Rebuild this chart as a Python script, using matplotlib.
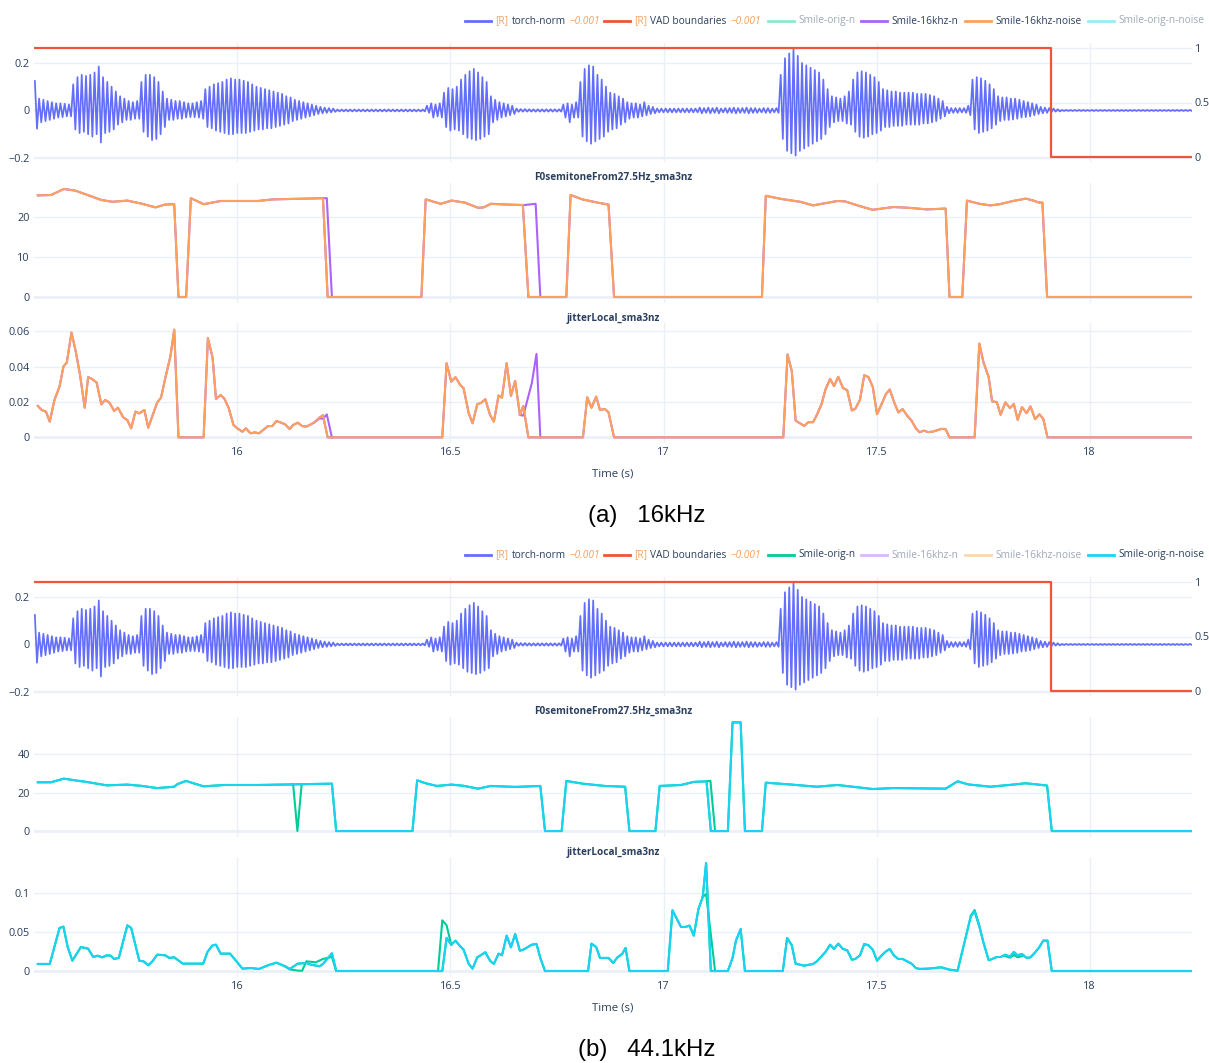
import matplotlib
matplotlib.use("Agg")
import matplotlib.pyplot as plt
import numpy as np
from matplotlib.lines import Line2D

plt.rcParams['font.family'] = ['Open Sans', 'DejaVu Sans']

# ---------------- data ----------------
X0, X1 = 15.523, 18.240
XTICKS = [16, 16.5, 17, 17.5, 18]
XTICKLABELS = ['16', '16.5', '17', '17.5', '18']

# waveform (torch-norm): upper / lower peak per 10 ms, in thousandths
WAVE_T0 = 15.525
WAVE_STEP = 0.01
wave_up = ([124] + [50, 45, 40] + [35, 30, 30, 28, 25] + [110, 140, 150, 145] + [150, 160, 185, 140]
           + [120, 100, 80, 60, 50] + [40, 35, 40] + [120, 150, 150, 140, 120, 80]
           + [50, 45, 40, 40, 35, 30, 30, 35, 40] + [90, 100, 110, 115, 120, 130, 135, 130, 130]
           + [125, 120, 110, 100, 95, 90, 85, 80, 75, 70, 60, 55] + [45, 40, 35, 30, 25, 20]
           + [15, 12, 10, 8] + [4] * 21 + [20] + [30, 25, 30] + [75, 95, 90, 100]
           + [130, 150, 165, 175, 160, 140, 120] + [60, 45, 35, 30, 25, 20]
           + [8, 6, 6, 5, 5, 5, 5, 5, 5, 5, 5] + [25, 30, 25, 35] + [120, 175, 190, 185, 150, 130, 100]
           + [75, 70, 60, 50] + [35, 30, 30, 25, 35, 20, 15] + [8] * 10 + [12, 10, 12, 10, 12]
           + [8, 10, 10, 12, 10, 10, 12, 10, 10, 8] + [10, 10, 8, 10]
           + [150, 220, 240, 260, 230, 200, 190, 180, 170, 160, 130, 90] + [60, 55, 50, 60, 80]
           + [130, 160, 165, 160, 150, 140, 120]
           + [90, 85, 80, 80, 75, 75, 75, 75, 70, 70, 70, 65, 60, 50, 40] + [15, 10, 10, 10, 10, 20]
           + [130, 140, 135, 125, 110, 90] + [60, 55, 55, 50, 50, 45, 40, 35, 30, 25]
           + [15, 12, 10, 8, 5] + [2] * 31)
wave_lo = ([-77] + [-50, -45, -40] + [-35, -30, -28, -25, -25] + [-80, -95, -90, -100] + [-110, -100, -135, -95]
           + [-90, -80, -60, -50, -40] + [-40, -35, -35] + [-90, -110, -125, -120, -100, -70]
           + [-40, -40, -35, -35, -30, -28, -28, -30, -35] + [-70, -75, -85, -90, -95, -100, -100, -95, -95]
           + [-95, -90, -85, -80, -80, -75, -75, -70, -65, -60, -55, -45] + [-40, -35, -30, -25, -20, -15]
           + [-12, -10, -8, -6] + [-4] * 21 + [-10] + [-30, -25, -30] + [-70, -85, -80, -85]
           + [-100, -115, -120, -125, -120, -110, -100] + [-50, -40, -30, -25, -20, -15]
           + [-6, -5, -5, -5, -5, -5, -5, -5, -5, -5, -5] + [-30, -50, -30, -30]
           + [-110, -130, -140, -130, -120, -110, -90]
           + [-80, -75, -60, -50] + [-35, -30, -30, -25, -20, -15, -12] + [-8] * 10 + [-12, -10, -12, -10, -12]
           + [-8, -10, -10, -12, -10, -10, -12, -10, -10, -8] + [-10, -10, -8, -10]
           + [-120, -170, -180, -190, -170, -160, -150, -140, -130, -120, -100, -70] + [-50, -45, -45, -55, -60]
           + [-90, -110, -115, -110, -100, -95, -85]
           + [-70, -70, -65, -65, -65, -60, -60, -60, -60, -55, -55, -50, -45, -35, -25]
           + [-12, -10, -10, -8, -10, -20]
           + [-80, -95, -90, -85, -75, -60] + [-45, -40, -40, -38, -35, -30, -28, -25, -20, -15]
           + [-12, -10, -8, -5, -4] + [-2] * 31)

# VAD boundaries
vad_t = [15.523, 17.910, 17.910, 18.240]
vad_v = [1, 1, 0, 0]

# Panel (a) F0 : Smile-16khz-noise
F0_A = [(15.532, 25.4), (15.563, 25.5), (15.593, 27.0), (15.620, 26.6), (15.646, 25.6), (15.681, 24.25),
        (15.707, 23.8), (15.742, 24.1), (15.777, 23.3), (15.808, 22.4), (15.830, 23.1), (15.852, 23.2),
        (15.862, 0), (15.880, 0), (15.891, 24.7), (15.921, 23.2), (15.961, 24.0), (16.048, 24.0),
        (16.083, 24.4), (16.201, 24.7), (16.212, 0), (16.432, 0), (16.442, 24.4), (16.455, 24.0),
        (16.477, 23.3), (16.503, 24.1), (16.534, 23.6), (16.565, 22.3), (16.578, 22.4), (16.595, 23.3),
        (16.635, 23.1), (16.670, 23.0), (16.683, 0), (16.772, 0), (16.782, 25.5), (16.810, 24.4),
        (16.845, 23.6), (16.871, 23.1), (16.884, 0), (17.231, 0), (17.240, 25.3), (17.277, 24.5),
        (17.321, 23.8), (17.351, 22.9), (17.382, 23.5), (17.408, 24.0), (17.426, 23.9), (17.461, 22.7),
        (17.491, 21.8), (17.540, 22.5), (17.575, 22.3), (17.618, 21.9), (17.662, 22.1), (17.671, 0),
        (17.701, 0), (17.712, 24.1), (17.741, 23.3), (17.767, 22.9), (17.789, 23.2), (17.820, 24.0),
        (17.850, 24.6), (17.868, 24.1), (17.881, 23.6), (17.889, 23.6), (17.900, 0), (18.240, 0)]
# Smile-16khz-n, where it differs from Smile-16khz-noise
F0_A_PURPLE = [[(16.201, 24.7), (16.210, 24.7), (16.222, 0)],
               [(16.670, 23.0), (16.674, 23.0), (16.700, 23.3), (16.711, 0)]]

JIT_A = [(15.532, 0.0178), (15.541, 0.0155), (15.551, 0.0146), (15.560, 0.0089), (15.571, 0.0212),
         (15.583, 0.0288), (15.592, 0.0401), (15.600, 0.0424), (15.611, 0.0594), (15.621, 0.0486),
         (15.631, 0.0354), (15.642, 0.0168), (15.650, 0.0341), (15.659, 0.0331), (15.670, 0.0310),
         (15.681, 0.0187), (15.690, 0.0212), (15.700, 0.0197), (15.711, 0.0150), (15.720, 0.0168),
         (15.732, 0.0114), (15.742, 0.0098), (15.751, 0.0051), (15.761, 0.0146), (15.770, 0.0136),
         (15.782, 0.0155), (15.791, 0.0055), (15.812, 0.0197), (15.821, 0.0225), (15.831, 0.0335),
         (15.843, 0.0458), (15.852, 0.0610), (15.862, 0), (15.921, 0), (15.931, 0.0562), (15.942, 0.0452),
         (15.950, 0.0218), (15.961, 0.0240), (15.970, 0.0218), (15.980, 0.0165), (15.991, 0.0070),
         (16.000, 0.0051), (16.012, 0.0032), (16.020, 0.0051), (16.031, 0.0023), (16.041, 0.0028),
         (16.051, 0.0023), (16.061, 0.0042), (16.072, 0.0064), (16.082, 0.0064), (16.092, 0.0093),
         (16.103, 0.0083), (16.112, 0.0074), (16.123, 0.0047), (16.131, 0.0070), (16.142, 0.0083),
         (16.152, 0.0064), (16.162, 0.0061), (16.173, 0.0074), (16.181, 0.0085), (16.193, 0.0112),
         (16.201, 0.0125), (16.212, 0), (16.481, 0), (16.491, 0.0420), (16.502, 0.0316), (16.512, 0.0341),
         (16.523, 0.0297), (16.531, 0.0278), (16.543, 0.0136), (16.552, 0.0080), (16.563, 0.0187),
         (16.573, 0.0197), (16.582, 0.0216), (16.593, 0.0127), (16.602, 0.0089), (16.613, 0.0237),
         (16.621, 0.0225), (16.632, 0.0420), (16.642, 0.0235), (16.652, 0.0320), (16.663, 0.0127),
         (16.671, 0.0178), (16.683, 0), (16.811, 0), (16.821, 0.0227), (16.831, 0.0168), (16.842, 0.0231),
         (16.851, 0.0155), (16.862, 0.0161), (16.871, 0.0142), (16.884, 0), (17.281, 0), (17.291, 0.0470),
         (17.301, 0.0375), (17.310, 0.0095), (17.330, 0.0065), (17.340, 0.0086), (17.351, 0.0086),
         (17.360, 0.0128), (17.371, 0.0190), (17.380, 0.0271), (17.391, 0.0331), (17.400, 0.0290),
         (17.410, 0.0343), (17.421, 0.0280), (17.431, 0.0267), (17.442, 0.0152), (17.450, 0.0162),
         (17.461, 0.0213), (17.471, 0.0352), (17.481, 0.0341), (17.491, 0.0286), (17.501, 0.0131),
         (17.512, 0.0190), (17.522, 0.0246), (17.531, 0.0271), (17.541, 0.0200), (17.551, 0.0141),
         (17.561, 0.0160), (17.572, 0.0122), (17.582, 0.0095), (17.592, 0.0051), (17.601, 0.0029),
         (17.611, 0.0038), (17.621, 0.0030), (17.631, 0.0032), (17.642, 0.0040), (17.652, 0.0048),
         (17.662, 0.0046), (17.671, 0), (17.730, 0), (17.741, 0.0531), (17.751, 0.0423), (17.763, 0.0341),
         (17.771, 0.0204), (17.782, 0.0200), (17.791, 0.0128), (17.802, 0.0198), (17.813, 0.0166),
         (17.822, 0.0189), (17.831, 0.0099), (17.841, 0.0171), (17.852, 0.0137), (17.861, 0.0175),
         (17.872, 0.0103), (17.882, 0.0131), (17.891, 0.0105), (17.901, 0), (18.240, 0)]
JIT_A_PURPLE = [[(16.181, 0.0085), (16.193, 0.0108), (16.201, 0.0105), (16.210, 0.0130), (16.222, 0)],
                [(16.663, 0.0127), (16.671, 0.0123), (16.691, 0.0307), (16.702, 0.0473), (16.711, 0)]]

# Panel (b) F0 : Smile-orig-n-noise
F0_B = [(15.532, 25.3), (15.563, 25.3), (15.593, 27.2), (15.620, 26.3), (15.646, 25.5), (15.694, 23.7),
        (15.742, 24.1), (15.777, 23.4), (15.812, 22.3), (15.852, 23.0), (15.860, 24.4), (15.880, 26.0),
        (15.900, 24.6), (15.921, 23.2), (15.970, 23.9), (16.048, 23.9), (16.127, 24.2), (16.222, 24.6),
        (16.232, 0), (16.411, 0), (16.422, 26.3), (16.442, 24.8), (16.468, 23.4), (16.503, 24.1),
        (16.530, 23.5), (16.565, 22.0), (16.595, 23.4), (16.652, 22.9), (16.711, 23.4), (16.722, 0),
        (16.761, 0), (16.772, 26.0), (16.810, 24.6), (16.862, 23.4), (16.910, 23.0), (16.920, 0),
        (16.981, 0), (16.991, 23.4), (17.041, 23.9), (17.071, 25.5), (17.101, 25.8), (17.111, 0),
        (17.151, 0), (17.162, 56.4), (17.181, 56.4), (17.191, 0), (17.231, 0), (17.240, 25.1),
        (17.295, 24.2), (17.360, 23.0), (17.408, 23.9), (17.491, 21.8), (17.540, 22.3), (17.662, 22.0),
        (17.690, 25.8), (17.715, 24.2), (17.767, 23.0), (17.820, 24.1), (17.850, 24.8), (17.900, 23.6),
        (17.911, 0), (18.240, 0)]
# Smile-orig-n, where it differs
F0_B_GREEN = [[(16.127, 24.2), (16.131, 24.2), (16.141, 0), (16.151, 24.3)],
              [(17.101, 25.8), (17.110, 26.1), (17.121, 0)]]

JIT_B = [(15.532, 0.0090), (15.560, 0.0090), (15.583, 0.0551), (15.592, 0.0568), (15.602, 0.0307),
         (15.613, 0.0132), (15.621, 0.0201), (15.633, 0.0307), (15.650, 0.0286), (15.662, 0.0179),
         (15.672, 0.0196), (15.683, 0.0175), (15.694, 0.0201), (15.703, 0.0196), (15.711, 0.0154),
         (15.722, 0.0167), (15.742, 0.0585), (15.751, 0.0551), (15.770, 0.0132), (15.780, 0.0124),
         (15.791, 0.0073), (15.801, 0.0124), (15.812, 0.0209), (15.831, 0.0201), (15.840, 0.0167),
         (15.852, 0.0175), (15.872, 0.0094), (15.920, 0.0094), (15.930, 0.0243), (15.941, 0.0325),
         (15.950, 0.0337), (15.961, 0.0222), (15.983, 0.0222), (16.000, 0.0111), (16.012, 0.0030),
         (16.031, 0.0038), (16.051, 0.0026), (16.072, 0.0073), (16.092, 0.0107), (16.112, 0.0060),
         (16.123, 0.0026), (16.142, 0.0094), (16.162, 0.0102), (16.173, 0.0081), (16.193, 0.0060),
         (16.201, 0.0090), (16.222, 0.0226), (16.232, 0), (16.481, 0), (16.491, 0.0423), (16.502, 0.0337),
         (16.512, 0.0389), (16.523, 0.0316), (16.531, 0.0273), (16.543, 0.0090), (16.552, 0.0030),
         (16.563, 0.0175), (16.582, 0.0239), (16.593, 0.0132), (16.602, 0.0090), (16.613, 0.0222),
         (16.621, 0.0201), (16.632, 0.0453), (16.642, 0.0303), (16.652, 0.0474), (16.663, 0.0260),
         (16.671, 0.0273), (16.691, 0.0337), (16.702, 0.0346), (16.711, 0.0167), (16.722, 0), (16.823, 0),
         (16.831, 0.0350), (16.842, 0.0307), (16.851, 0.0167), (16.871, 0.0167), (16.882, 0.0102),
         (16.892, 0.0175), (16.903, 0.0218), (16.911, 0.0295), (16.920, 0), (17.010, 0), (17.021, 0.0777),
         (17.041, 0.0564), (17.051, 0.0564), (17.061, 0.0581), (17.071, 0.0453), (17.082, 0.0794),
         (17.092, 0.0948), (17.100, 0.1383), (17.111, 0), (17.151, 0), (17.162, 0.0167), (17.170, 0.0389),
         (17.181, 0.0538), (17.191, 0), (17.280, 0), (17.290, 0.0423), (17.301, 0.0329), (17.310, 0.0094),
         (17.330, 0.0068), (17.351, 0.0090), (17.360, 0.0124), (17.380, 0.0243), (17.391, 0.0337),
         (17.400, 0.0282), (17.410, 0.0350), (17.421, 0.0282), (17.431, 0.0265), (17.442, 0.0145),
         (17.450, 0.0154), (17.461, 0.0201), (17.471, 0.0346), (17.481, 0.0329), (17.491, 0.0273),
         (17.501, 0.0132), (17.512, 0.0201), (17.522, 0.0252), (17.531, 0.0282), (17.541, 0.0196),
         (17.551, 0.0154), (17.561, 0.0154), (17.582, 0.0094), (17.592, 0.0038), (17.601, 0.0026),
         (17.621, 0.0030), (17.652, 0.0047), (17.671, 0.0017), (17.690, 0.0004), (17.701, 0.0252),
         (17.721, 0.0700), (17.730, 0.0764), (17.741, 0.0572), (17.751, 0.0359), (17.763, 0.0137),
         (17.771, 0.0154), (17.782, 0.0179), (17.791, 0.0179), (17.802, 0.0209), (17.813, 0.0184),
         (17.822, 0.0243), (17.831, 0.0201), (17.841, 0.0218), (17.852, 0.0167), (17.861, 0.0175),
         (17.872, 0.0239), (17.882, 0.0307), (17.891, 0.0389), (17.901, 0.0389), (17.911, 0), (18.240, 0)]
JIT_B_GREEN = [[(16.112, 0.0060), (16.123, 0.0020), (16.142, 0.0005), (16.152, 0.0002), (16.162, 0.0124),
                (16.184, 0.0111), (16.201, 0.0154), (16.222, 0.0180), (16.232, 0)],
               [(16.471, 0), (16.481, 0.0649), (16.491, 0.0585), (16.502, 0.0337)],
               [(17.092, 0.0948), (17.100, 0.0986), (17.121, 0)],
               [(17.721, 0.0710), (17.730, 0.0780), (17.741, 0.0580)],
               [(17.802, 0.0190), (17.813, 0.0170), (17.822, 0.0205), (17.831, 0.0175), (17.841, 0.0190)]]

LEGEND_NAMES = ['torch-norm', 'VAD boundaries', 'Smile-orig-n', 'Smile-16khz-n', 'Smile-16khz-noise',
                'Smile-orig-n-noise']
CAPTIONS = ['(a)   16kHz', '(b)   44.1kHz']

# ---------------- style ----------------
W, H = 1209, 1063
TXT = '#2a3f5f'
GRID = '#EBF0F8'
C_BLUE, C_RED, C_GREEN = '#636EFA', '#EF553B', '#00CC96'
C_PURPLE, C_ORANGE, C_CYAN = '#AB63FA', '#FFA15A', '#19D3F3'
C_TAG = '#F4A261'
COLORS = [C_BLUE, C_RED, C_GREEN, C_PURPLE, C_ORANGE, C_CYAN]

fig = plt.figure(figsize=(W / 100, H / 100), dpi=100)
fig.patch.set_facecolor('white')
renderer = fig.canvas.get_renderer()


def add_ax(l, t, r, b):
    return fig.add_axes([l / W, 1 - b / H, (r - l) / W, (b - t) / H])


def style(ax, yticks, ylabels, ylim, xlabels=False):
    ax.set_facecolor('white')
    ax.set_xlim(X0, X1)
    ax.set_ylim(*ylim)
    ax.set_xticks(XTICKS)
    ax.set_yticks(yticks)
    ax.set_yticklabels(ylabels)
    if xlabels:
        ax.set_xticklabels(XTICKLABELS)
    else:
        ax.set_xticklabels([])
    ax.tick_params(length=0, labelsize=7.8, labelcolor=TXT, pad=3)
    for s in ax.spines.values():
        s.set_visible(False)
    ax.grid(True, color=GRID, lw=1)
    ax.set_axisbelow(True)
    ax.axhline(0, color=GRID, lw=2, zorder=0.6)


def xy(points):
    return [p[0] for p in points], [p[1] for p in points]


def legend(y, hidden):
    for k, name in enumerate(LEGEND_NAMES):
        x = [465, 604, 768, 861, 965, 1088][k]
        a = 0.45 if k in hidden else 1.0
        fig.add_artist(Line2D([x / W, (x + 26) / W], [1 - y / H] * 2, color=COLORS[k], lw=2, alpha=a))
        if k < 2:
            parts = [('[R]', C_TAG, 'normal'), (name, TXT, 'normal'), ('\u22120.001', C_TAG, 'italic')]
        else:
            parts = [(name, TXT, 'normal')]
        cx = x + 30
        for txt, tc, st in parts:
            t = fig.text(cx / W, 1 - y / H, txt, color=tc, style=st, fontsize=7.3, va='center',
                         ha='left', alpha=a)
            cx += t.get_window_extent(renderer).width + 3.5


wt = WAVE_T0 + WAVE_STEP * np.arange(len(wave_up))
wave_x = np.column_stack([wt, wt + WAVE_STEP / 2]).ravel()
wave_y = np.column_stack([np.array(wave_up), np.array(wave_lo)]).ravel() * 0.001

for panel in range(2):
    dy = 534 * panel
    legend(21 + dy, hidden=[2, 5] if panel == 0 else [3, 4])

    # --- waveform + VAD ---
    ax1 = add_ax(34, 43 + dy, 1192, 162 + dy)
    style(ax1, [-0.2, 0, 0.2], ['\u22120.2', '0', '0.2'], (-0.217, 0.284))
    ax1r = ax1.twinx()
    ax1r.set_ylim(-0.046, 1.046)
    ax1r.set_yticks([0, 0.5, 1])
    ax1r.set_yticklabels(['0', '0.5', '1'])
    ax1r.tick_params(length=0, labelsize=7.8, labelcolor=TXT, pad=2)
    for s in ax1r.spines.values():
        s.set_visible(False)
    ax1r.patch.set_visible(False)
    for v in [0, 0.5, 1]:
        ax1.plot([X0, X1], [v, v], color=GRID, lw=1, transform=ax1r.transData, zorder=0.5)
    ax1.plot(wave_x, wave_y, color=C_BLUE, lw=1.25, zorder=2)
    ax1r.plot(vad_t, vad_v, color=C_RED, lw=1.6, zorder=3)

    # --- F0 ---
    ax2 = add_ax(34, 183 + dy, 1192, 303 + dy)
    if panel == 0:
        style(ax2, [0, 10, 20], ['0', '10', '20'], (-1.5, 28.5))
        t, v = xy(F0_A)
        ax2.plot(t, v, color=C_PURPLE, lw=1.5, zorder=2)
        for seg in F0_A_PURPLE:
            ax2.plot(*xy(seg), color=C_PURPLE, lw=1.5, zorder=2)
        ax2.plot(t, v, color=C_ORANGE, lw=1.5, zorder=3)
    else:
        style(ax2, [0, 20, 40], ['0', '20', '40'], (-3.1, 59.2))
        t, v = xy(F0_B)
        ax2.plot(t, v, color=C_GREEN, lw=1.5, zorder=2)
        for seg in F0_B_GREEN:
            ax2.plot(*xy(seg), color=C_GREEN, lw=1.5, zorder=2)
        ax2.plot(t, v, color=C_CYAN, lw=1.5, zorder=3)
    fig.text(613 / W, 1 - (177 + dy) / H, 'F0semitoneFrom27.5Hz_sma3nz', ha='center', va='center',
             fontsize=7.2, fontweight='bold', color=TXT)

    # --- jitter ---
    ax3 = add_ax(34, 323 + dy, 1192, 443 + dy)
    if panel == 0:
        style(ax3, [0, 0.02, 0.04, 0.06], ['0', '0.02', '0.04', '0.06'], (-0.0032, 0.0648), xlabels=True)
        t, v = xy(JIT_A)
        ax3.plot(t, v, color=C_PURPLE, lw=1.5, zorder=2)
        for seg in JIT_A_PURPLE:
            ax3.plot(*xy(seg), color=C_PURPLE, lw=1.5, zorder=2)
        ax3.plot(t, v, color=C_ORANGE, lw=1.5, zorder=3)
    else:
        style(ax3, [0, 0.05, 0.1], ['0', '0.05', '0.1'], (-0.0077, 0.146), xlabels=True)
        t, v = xy(JIT_B)
        ax3.plot(t, v, color=C_GREEN, lw=1.5, zorder=2)
        for seg in JIT_B_GREEN:
            ax3.plot(*xy(seg), color=C_GREEN, lw=1.5, zorder=2)
        ax3.plot(t, v, color=C_CYAN, lw=1.5, zorder=3)
    fig.text(613 / W, 1 - (318 + dy) / H, 'jitterLocal_sma3nz', ha='center', va='center',
             fontsize=7.2, fontweight='bold', color=TXT)
    fig.text(613 / W, 1 - (474 + dy) / H, 'Time (s)', ha='center', va='center', fontsize=8.2, color=TXT)
    fig.text(647 / W, 1 - (516 + dy) / H, CAPTIONS[panel], ha='center', va='center', fontsize=17.3,
             family='Liberation Sans', color='black')

fig.savefig('out.png', dpi=100, facecolor='white')
